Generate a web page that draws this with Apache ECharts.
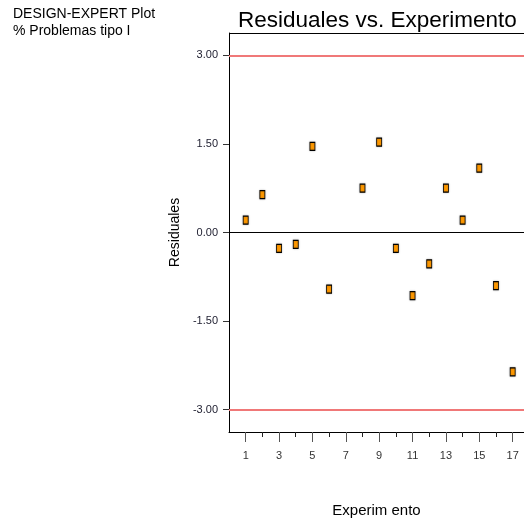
<!DOCTYPE html>
<html>
<head>
<meta charset="utf-8">
<script src="https://cdn.jsdelivr.net/npm/echarts@6/dist/echarts.min.js"></script>
<style>html,body{margin:0;padding:0;background:#fff;}#c{width:524px;height:519px;}</style>
</head>
<body>
<div id="c"></div>
<script>
const experiments = [1, 2, 3, 4, 5, 6, 8, 9, 10, 11, 12, 13, 14, 15, 16, 17];
const residuals = [0.21, 0.64, -0.27, -0.20, 1.46, -0.96, 0.75, 1.53, -0.27, -1.07, -0.53, 0.75, 0.21, 1.09, -0.90, -2.36];
const xMajorTicks = [1, 3, 5, 7, 9, 11, 13, 15, 17];
const xMinorTicks = [2, 4, 6, 8, 10, 12, 14, 16];
const yTicks = [-3, -1.5, 0, 1.5, 3];
const limitLines = [3, -3];

const chart = echarts.init(document.getElementById('c'));
const font = 'Liberation Sans, Arial, sans-serif';
chart.setOption({
  animation: false,
  backgroundColor: '#fff',
  title: {
    text: 'Residuales vs. Experimento',
    left: 233, top: 4,
    textStyle: {fontFamily: font, fontSize: 22.5, fontWeight: 'normal', color: '#000'}
  },
  graphic: [
    {type: 'text', left: 13, top: 7, style: {text: 'DESIGN-EXPERT Plot', font: '14px ' + font, fill: '#000'}},
    {type: 'text', left: 13, top: 24, style: {text: '% Problemas tipo I', font: '14px ' + font, fill: '#000'}},
    {type: 'line', shape: {x1: 229.5, y1: 33.5, x2: 524, y2: 33.5}, style: {stroke: '#000', lineWidth: 1}}
  ],
  grid: {left: 229, top: 33, right: 0, bottom: 87, outerBoundsMode: 'none', containLabel: false},
  xAxis: [{
    type: 'value', min: 0, max: 17.68,
    name: 'Experim ento', nameLocation: 'middle', nameGap: 71,
    nameTextStyle: {fontFamily: font, fontSize: 15, color: '#000'},
    axisLine: {show: true, onZero: false, lineStyle: {color: '#000', width: 1}},
    axisTick: {show: true, customValues: xMajorTicks, length: 10, lineStyle: {color: '#555'}},
    axisLabel: {show: true, customValues: xMajorTicks, margin: 18, fontFamily: font, fontSize: 11, color: '#333'},
    splitLine: {show: false}
  }, {
    type: 'value', min: 0, max: 17.68, position: 'bottom',
    axisLine: {show: false, onZero: false},
    axisTick: {show: true, customValues: xMinorTicks, length: 5, lineStyle: {color: '#222'}},
    axisLabel: {show: false},
    splitLine: {show: false}
  }],
  yAxis: {
    type: 'value', min: -3.38, max: 3.38,
    name: 'Residuales', nameLocation: 'middle', nameGap: 46,
    nameTextStyle: {fontFamily: font, fontSize: 14, color: '#000'},
    axisLine: {show: true, onZero: false, lineStyle: {color: '#000', width: 1}},
    axisTick: {show: true, customValues: yTicks, length: 6, lineStyle: {color: '#333'}},
    axisLabel: {show: true, customValues: yTicks, margin: 11, fontFamily: font, fontSize: 11, color: '#223',
      formatter: v => v.toFixed(2)},
    splitLine: {show: false}
  },
  series: [{
    type: 'scatter',
    data: experiments.map((e, i) => [e, residuals[i]]),
    symbol: 'rect', symbolSize: [5, 8],
    itemStyle: {color: '#FF9900', borderColor: '#000', borderWidth: 1, opacity: 1,
      shadowColor: 'rgba(0,0,0,0.25)', shadowBlur: 2},
    z: 5,
    markLine: {
      silent: true, symbol: 'none', label: {show: false},
      data: [
        {yAxis: limitLines[0], lineStyle: {color: '#F07878', width: 2, type: 'solid'}},
        {yAxis: limitLines[1], lineStyle: {color: '#F07878', width: 2, type: 'solid'}},
        {yAxis: 0, lineStyle: {color: '#000', width: 1, type: 'solid'}}
      ]
    }
  }]
});
</script>
</body>
</html>
